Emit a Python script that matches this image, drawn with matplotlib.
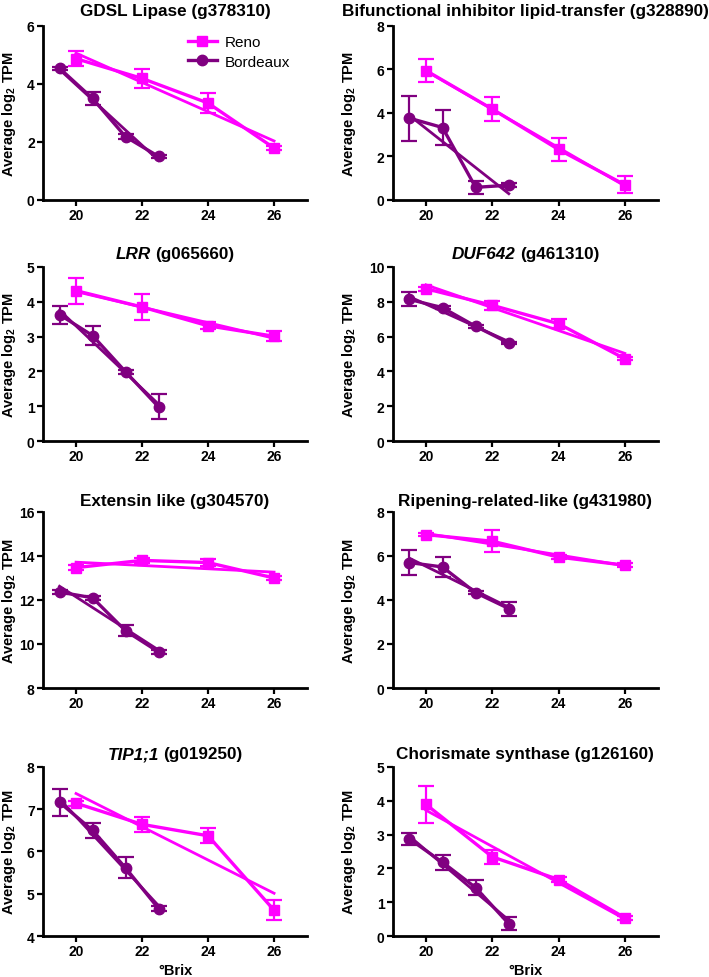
import numpy as np
import matplotlib.pyplot as plt
from matplotlib.lines import Line2D
from matplotlib.offsetbox import TextArea, HPacker, AnnotationBbox

plt.rcParams['font.family'] = ['Liberation Sans', 'DejaVu Sans']
plt.rcParams['mathtext.fontset'] = 'custom'
plt.rcParams['mathtext.rm'] = 'Liberation Sans:bold'
plt.rcParams['mathtext.bf'] = 'Liberation Sans:bold'
plt.rcParams['mathtext.it'] = 'Liberation Sans:italic:bold'

RENO = '#ff00ff'
BDX = '#800080'

# data: Brix and mean log2 TPM (+/- error)
reno_x = [20, 22, 24, 26]
bdx_x = [19.5, 20.5, 21.5, 22.5]

# gene name part in italics (if any) + rest of the title
title_italic = ['', '', 'LRR', 'DUF642', '', '', 'TIP1;1', '']
title_rest = [
    'GDSL Lipase (g378310)',
    'Bifunctional inhibitor lipid-transfer (g328890)',
    '(g065660)',
    '(g461310)',
    'Extensin like (g304570)',
    'Ripening-related-like (g431980)',
    '(g019250)',
    'Chorismate synthase (g126160)',
]

reno_mean = [
    [4.87, 4.19, 3.34, 1.79],
    [5.95, 4.18, 2.32, 0.70],
    [4.32, 3.85, 3.31, 3.01],
    [8.75, 7.80, 6.74, 4.73],
    [13.47, 13.80, 13.70, 13.00],
    [6.97, 6.67, 5.95, 5.58],
    [7.14, 6.64, 6.37, 4.61],
    [3.89, 2.34, 1.67, 0.54],
]
reno_err = [
    [0.26, 0.34, 0.33, 0.08],
    [0.53, 0.57, 0.55, 0.38],
    [0.37, 0.37, 0.10, 0.15],
    [0.12, 0.25, 0.25, 0.10],
    [0.10, 0.10, 0.15, 0.10],
    [0.08, 0.50, 0.08, 0.08],
    [0.06, 0.18, 0.18, 0.24],
    [0.54, 0.20, 0.08, 0.06],
]
bdx_mean = [
    [4.54, 3.50, 2.18, 1.50],
    [3.76, 3.33, 0.58, 0.68],
    [3.63, 3.03, 1.99, 0.98],
    [8.14, 7.66, 6.59, 5.63],
    [12.36, 12.10, 10.60, 9.64],
    [5.70, 5.50, 4.33, 3.61],
    [7.16, 6.50, 5.61, 4.65],
    [2.87, 2.18, 1.43, 0.36],
]
bdx_err = [
    [0.05, 0.23, 0.08, 0.05],
    [1.03, 0.79, 0.30, 0.08],
    [0.26, 0.28, 0.06, 0.36],
    [0.41, 0.10, 0.08, 0.08],
    [0.08, 0.08, 0.25, 0.08],
    [0.55, 0.47, 0.08, 0.32],
    [0.32, 0.18, 0.25, 0.05],
    [0.17, 0.22, 0.23, 0.19],
]

y_lims = [(0, 6), (0, 8), (0, 5), (0, 10), (8, 16), (0, 8), (4, 8), (0, 5)]
y_steps = [2, 2, 1, 2, 2, 2, 1, 1]
x_ticks = [20, 22, 24, 26]

# axes boxes in figure fractions (left, bottom, width, height)
col_left = [0.0607, 0.554]
col_width = [0.3724, 0.374]
col_ylabel_x = [-0.095, -0.132]
row_bottom = [0.7945, 0.548, 0.2955, 0.0419]
row_height = [0.178, 0.178, 0.18, 0.173]
row_title_pad = [6, 4, 3, 4]

fig = plt.figure(figsize=(7.09, 9.78), dpi=100)


def draw_series(ax, x, y, err, color, marker):
    x = np.asarray(x, dtype=float)
    y = np.asarray(y, dtype=float)
    ax.plot(x, y, color=color, lw=2.4, zorder=2)
    # linear fit drawn across the measured range
    slope, icpt = np.polyfit(x, y, 1)
    xf = np.array([x.min(), x.max()])
    ax.plot(xf, slope * xf + icpt, color=color, lw=2.0, zorder=2)
    ax.errorbar(x, y, yerr=err, fmt='none', ecolor=color, elinewidth=1.6,
                capsize=6, capthick=1.6, zorder=3)
    ax.plot(x, y, linestyle='none', marker=marker, ms=7.5, color=color,
            mec=color, zorder=4)


def add_title(ax, italic, rest, pad):
    props = dict(fontsize=12.3, fontweight='bold', color='black')
    parts = []
    if italic:
        parts.append(TextArea(italic, textprops=dict(props, fontstyle='italic')))
    parts.append(TextArea(rest, textprops=props))
    box = HPacker(children=parts, align='baseline', pad=0, sep=3)
    ab = AnnotationBbox(box, (0.5, 1.0), xycoords='axes fraction',
                        xybox=(0, pad), boxcoords='offset points',
                        box_alignment=(0.5, 0), frameon=False,
                        annotation_clip=False)
    ax.add_artist(ab)


for i in range(8):
    r, c = divmod(i, 2)
    ax = fig.add_axes([col_left[c], row_bottom[r], col_width[c], row_height[r]])

    draw_series(ax, reno_x, reno_mean[i], reno_err[i], RENO, 's')
    draw_series(ax, bdx_x, bdx_mean[i], bdx_err[i], BDX, 'o')

    lo, hi = y_lims[i]
    ax.set_xlim(19, 27)
    ax.set_ylim(lo, hi)
    ax.set_xticks(x_ticks)
    ax.set_yticks(np.arange(lo, hi + 0.01, y_steps[i]))
    for side in ['top', 'right']:
        ax.spines[side].set_visible(False)
    for side in ['left', 'bottom']:
        ax.spines[side].set_linewidth(2)
    ax.tick_params(width=1.6, length=4, labelsize=10, pad=2)
    for lab in ax.get_xticklabels() + ax.get_yticklabels():
        lab.set_fontweight('bold')
    add_title(ax, title_italic[i], title_rest[i], row_title_pad[r])
    ax.set_ylabel(r'Average log$_2$ TPM', fontsize=10.5, fontweight='bold')
    ax.yaxis.set_label_coords(col_ylabel_x[c], 0.5)
    if r == 3:
        ax.set_xlabel('°Brix', fontsize=10.5, fontweight='bold', labelpad=3)

    if i == 0:
        handles = [
            Line2D([0], [0], color=RENO, lw=2.4, marker='s', ms=7.5),
            Line2D([0], [0], color=BDX, lw=2.4, marker='o', ms=7.5),
        ]
        ax.legend(handles, ['Reno', 'Bordeaux'], loc='upper left',
                  bbox_to_anchor=(0.496, 1.025), frameon=False, fontsize=11,
                  handlelength=1.9, handletextpad=0.5, labelspacing=0.35)

fig.savefig('out.png', dpi=100)
